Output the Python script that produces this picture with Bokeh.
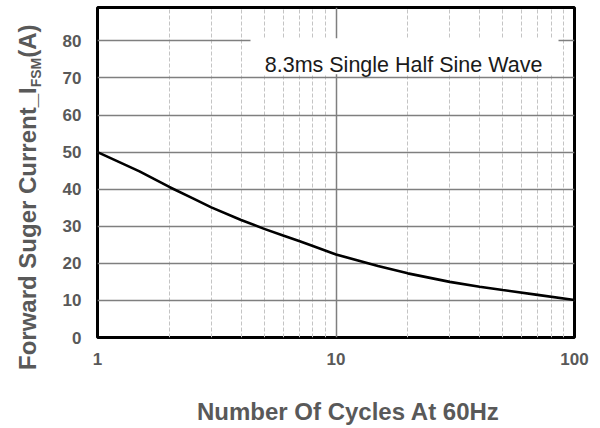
from bokeh.plotting import figure
from bokeh.models import FixedTicker, Range1d, Label, BoxAnnotation, Div
from bokeh.layouts import row, column
from bokeh.embed import file_html
from bokeh.resources import INLINE

# ---- data ----
cycles = [1, 1.5, 2, 2.5, 3, 4, 5, 6, 7, 8, 10, 15, 20, 30, 40, 50, 70, 100]
current = [50.0, 44.8, 40.6, 37.6, 35.1, 31.7, 29.3, 27.5, 26.0, 24.7, 22.4,
           19.3, 17.3, 15.0, 13.7, 12.8, 11.5, 10.1]
x_ticks = [1, 10, 100]
x_tick_labels = ["1", "10", "100"]
x_minor = [2, 3, 4, 5, 6, 7, 8, 9, 20, 30, 40, 50, 60, 70, 80, 90]
y_ticks = [0, 10, 20, 30, 40, 50, 60, 70, 80]
note_text = "8.3ms Single Half Sine Wave"
x_title = "Number Of Cycles At 60Hz"
y_title_main = "Forward Suger Current_I"
y_title_sub = "FSM"
y_title_end = "(A)"

FONT = "Liberation Sans"
GRAY = "#595959"

p = figure(width=556, height=395, x_axis_type="log",
           x_range=Range1d(1, 100), y_range=Range1d(0, 89),
           output_backend="svg", toolbar_location=None,
           min_border_left=53, min_border_right=26,
           min_border_top=7, min_border_bottom=58)

p.background_fill_color = "white"
p.border_fill_color = "white"
p.outline_line_color = "black"
p.outline_line_width = 3

# grids
p.xgrid.ticker = FixedTicker(ticks=x_ticks, minor_ticks=x_minor)
p.xgrid.grid_line_color = "#7f7f7f"
p.xgrid.grid_line_width = 1.5
p.xgrid.minor_grid_line_color = "#c4c4c4"
p.xgrid.minor_grid_line_width = 1
p.xgrid.minor_grid_line_dash = "4 2"
p.ygrid.ticker = FixedTicker(ticks=y_ticks)
p.ygrid.grid_line_color = "#7f7f7f"
p.ygrid.grid_line_width = 1.6

# axes
p.xaxis.ticker = FixedTicker(ticks=x_ticks)
p.xaxis.major_label_overrides = {t: l for t, l in zip(x_ticks, x_tick_labels)}
p.yaxis.ticker = FixedTicker(ticks=y_ticks)
for ax in (p.xaxis, p.yaxis):
    ax.axis_line_color = None
    ax.major_tick_line_color = None
    ax.minor_tick_line_color = None
    ax.major_tick_out = 0
    ax.major_tick_in = 0
    ax.minor_tick_out = 0
    ax.minor_tick_in = 0
    ax.major_label_text_font = FONT
    ax.major_label_text_font_style = "bold"
    ax.major_label_text_font_size = "17px"
    ax.major_label_text_color = GRAY
p.xaxis.major_label_standoff = 15
p.yaxis.major_label_standoff = 16

# curve
p.line(cycles, current, line_color="black", line_width=2.6)

# note box
p.add_layout(BoxAnnotation(left=4.38, right=85.7, bottom=71.0, top=80.7,
                           fill_color="white", fill_alpha=1.0, line_color=None))
p.add_layout(Label(x=19.2, y=73.45, text=note_text, text_align="center",
                   text_baseline="alphabetic", text_font=FONT,
                   text_font_size="21.5px", text_color="#1a1a1a"))

# x title (HTML text under the figure)
xtitle_html = (
    '<div style="transform: translate(153px, 5px); white-space: nowrap; '
    "font-family: 'Liberation Sans', Arial, sans-serif; font-weight: bold; "
    f'font-size: 24px; line-height: 24px; color: {GRAY};">{x_title}</div>'
)
xdiv = Div(text=xtitle_html, width=556, height=33, margin=0)

# y title (rotated HTML text with a real subscript)
ytitle_html = (
    '<div style="transform: translate(16px, 370px) rotate(-90deg); '
    'transform-origin: 0 0; white-space: nowrap; '
    "font-family: 'Liberation Sans', Arial, sans-serif; font-weight: bold; "
    f'font-size: 24px; line-height: 24px; color: {GRAY};">'
    f'{y_title_main}<span style="font-size: 14px; vertical-align: -5px;">'
    f'{y_title_sub}</span>{y_title_end}</div>'
)
ydiv = Div(text=ytitle_html, width=44, height=428, margin=0)

layout = row(ydiv, column(p, xdiv, spacing=0), spacing=0)
open("out.html", "w").write(file_html(layout, INLINE))
